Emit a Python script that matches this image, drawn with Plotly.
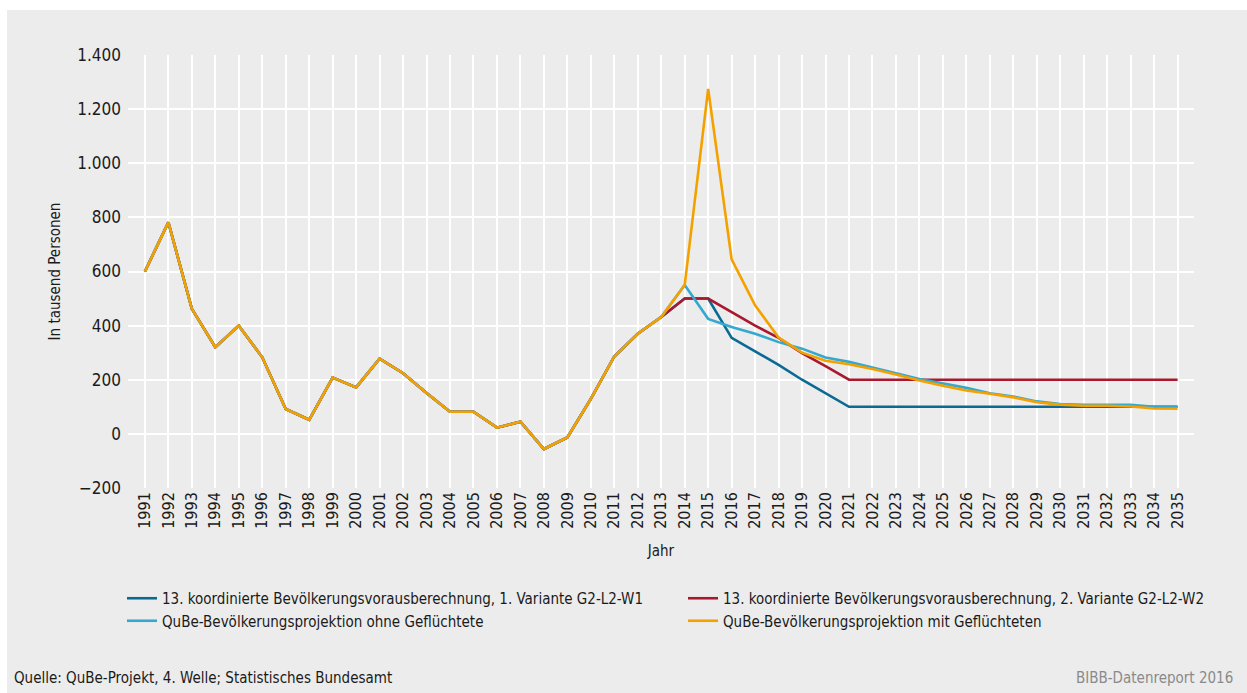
import plotly.graph_objects as go

years = list(range(1991, 2036))

history = [600, 782, 462, 320, 400, 283, 92, 52, 208, 172, 278, 224, 151, 82, 82,
           23, 45, -56, -13, 129, 286, 370, 432]  # 1991-2013

variante1 = history + [500, 500, 355, 305, 255, 200, 150, 100,
                       100, 100, 100, 100, 100, 100, 100, 100, 100, 100, 100, 100, 100, 100]
variante2 = history + [500, 500, 450, 400, 355, 298, 250, 200,
                       200, 200, 200, 200, 200, 200, 200, 200, 200, 200, 200, 200, 200, 200]
ohne = history + [550, 425, 395, 370, 339, 315, 282, 266,
                  246, 224, 203, 187, 170, 150, 138, 120, 110, 107, 107, 107, 100, 100]
mit = history + [550, 1275, 645, 475, 356, 300, 270, 257,
                 240, 219, 197, 178, 160, 148, 135, 117, 108, 104, 104, 101, 94, 93]

names = [
    "13. koordinierte Bevölkerungsvorausberechnung, 1. Variante G2-L2-W1",
    "13. koordinierte Bevölkerungsvorausberechnung, 2. Variante G2-L2-W2",
    "QuBe-Bevölkerungsprojektion ohne Geflüchtete",
    "QuBe-Bevölkerungsprojektion mit Geflüchteten",
]
colors = ["#0b6a93", "#a8182f", "#34a9cf", "#f4a100"]
series = [variante1, variante2, ohne, mit]

FONT = "Liberation Sans Narrow, DejaVu Sans Condensed, Arial Narrow, sans-serif"

fig = go.Figure()
for n, c, s in zip(names, colors, series):
    fig.add_trace(go.Scatter(x=years, y=s, mode="lines", name=n,
                             line=dict(color=c, width=2.6)))

W, H = 1247, 693
L, R, T, B = 128, 53, 55, 205
pw, ph = W - L - R, H - T - B

def px(x):
    return (x - L) / pw

def py(y):
    return (H - B - y) / ph

fig.update_layout(
    width=W, height=H,
    margin=dict(l=L, r=R, t=T, b=B),
    paper_bgcolor="white",
    plot_bgcolor="#dedede",
    separators=",.",
    font=dict(family=FONT, size=15, color="#1a1a1a"),
    showlegend=True,
    legend=dict(orientation="h", x=px(122), y=py(582), xanchor="left", yanchor="top",
                entrywidth=516, entrywidthmode="pixels", font=dict(size=15, family=FONT),
                bgcolor="rgba(0,0,0,0)", tracegroupgap=0, itemwidth=30),
    xaxis=dict(range=[1990.28, 2035.7], tickmode="array", tickvals=years,
               ticktext=[str(y) for y in years], tickangle=-90,
               showgrid=True, gridcolor="white", gridwidth=1.5, zeroline=False,
               ticks="", tickfont=dict(size=16),
               title=dict(text="Jahr", font=dict(size=15), standoff=17)),
    yaxis=dict(range=[-200, 1400], tickmode="array",
               tickvals=[-200, 0, 200, 400, 600, 800, 1000, 1200, 1400],
               tickformat=",d", showgrid=True, gridcolor="white", gridwidth=1.5,
               zeroline=False, ticks="", tickfont=dict(size=17), ticklabelstandoff=6,
               title=dict(text="In tausend Personen", font=dict(size=15), standoff=12)),
    shapes=[dict(type="rect", xref="paper", yref="paper", layer="below",
                 x0=px(7), x1=px(W + 5), y0=py(H + 5), y1=py(10),
                 fillcolor="#ececec", line=dict(width=0))],
    annotations=[
        dict(text="Quelle: QuBe-Projekt, 4. Welle; Statistisches Bundesamt",
             xref="paper", yref="paper", x=px(12), y=py(678), xanchor="left",
             yanchor="middle", showarrow=False, font=dict(size=15, color="#1a1a1a")),
        dict(text="BIBB-Datenreport 2016",
             xref="paper", yref="paper", x=px(1235), y=py(678), xanchor="right",
             yanchor="middle", showarrow=False, font=dict(size=15, color="#8a8a8a")),
    ],
)

fig.write_html("out.html", config={"displayModeBar": False},
               post_script="document.body.style.margin='0';document.body.style.overflow='hidden';")
